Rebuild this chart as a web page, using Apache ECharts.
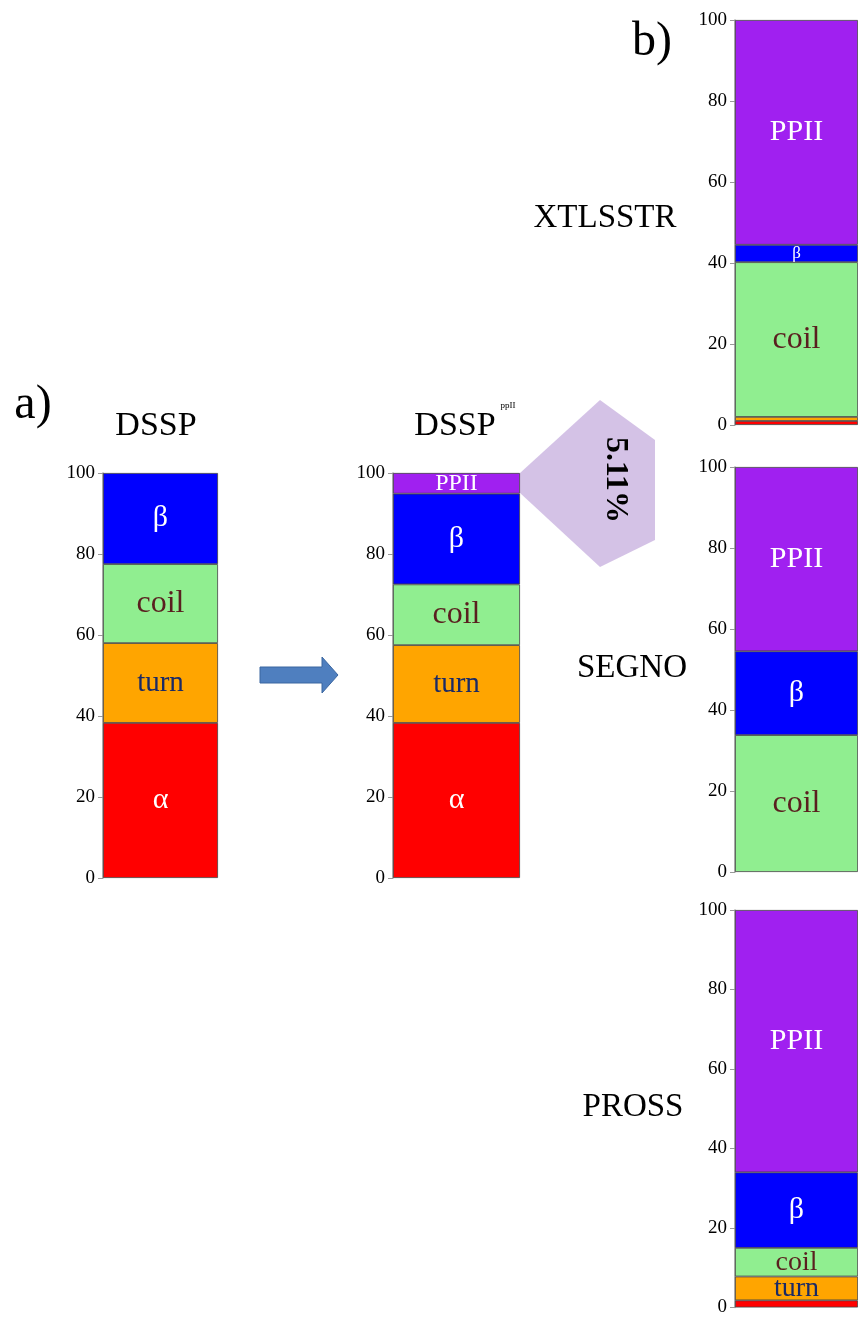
<!DOCTYPE html>
<html><head><meta charset="utf-8">
<script src="https://cdn.jsdelivr.net/npm/echarts@6/dist/echarts.min.js"></script>
<style>html,body{margin:0;padding:0;background:#fff}#c{width:858px;height:1317px}</style>
</head><body><div id="c"></div>
<script>
const classes = ['α','turn','coil','β','PPII'];
const panels = ['DSSP','DSSPppII','XTLSSTR','SEGNO','PROSS'];
const dsspVals     = [38.3, 19.7, 19.5, 22.5, 0];
const dsspPPIIVals = [38.3, 19.2, 15.0, 22.4, 5.11];
const xtlsstrVals  = [1.0, 1.0, 38.2, 4.3, 55.5];
const segnoVals    = [0, 0, 33.8, 20.7, 45.5];
const prossVals    = [1.8, 6.0, 7.2, 19.0, 66.0];
const yTicks = [0,20,40,60,80,100];
const allVals = [dsspVals, dsspPPIIVals, xtlsstrVals, segnoVals, prossVals];

const colors = ['#ff0000','#ffa500','#90ee90','#0000ff','#a020f0'];
const labelColors = ['#fff','#1a2a66','#5a1f1f','#fff','#fff'];
const labelSizes = [30,29,32,30,30];
const serif = 'Liberation Serif, DejaVu Serif, serif';

const grids = [
  {left:103, top:473, width:115, height:405},
  {left:393, top:473, width:127, height:405},
  {left:735, top:20, width:140, height:405},
  {left:735, top:467, width:140, height:405},
  {left:735, top:910, width:140, height:404}
];
const minLabel = [8,5,6,6,5];

const xAxis = [], yAxis = [], series = [];
grids.forEach((g,i)=>{
  xAxis.push({type:'category', gridIndex:i, data:[panels[i]], show:false});
  yAxis.push({type:'value', gridIndex:i, min:0, max:100, interval:20,
    axisLine:{show:true, lineStyle:{color:'#999', width:1.5}},
    axisTick:{show:true, length:5, lineStyle:{color:'#999'}},
    splitLine:{show:false},
    axisLabel:{color:'#000', fontFamily:serif, fontSize:19, margin:8}});
  classes.forEach((c,k)=>{
    const v = allVals[i][k];
    const showLab = v >= minLabel[i] || (i===2 && k===3);
    let fs = labelSizes[k];
    if (i===2&&k===3) fs = 17;
    if (i===1&&k===4) fs = 24;
    if (i===4&&(k===1||k===2)) fs = 28;
    series.push({type:'bar', name:c, xAxisIndex:i, yAxisIndex:i, stack:'s'+i,
      barWidth:'100%', data:[v],
      itemStyle:{color:colors[k], borderColor:'#444', borderWidth:v>0?0.8:0},
      label:{show:showLab && v>0, position:'inside', formatter:c,
        color:labelColors[k], fontFamily:serif, fontSize:fs},
      silent:true, animation:false});
  });
});

const chart = echarts.init(document.getElementById('c'));
const T = (x,y,text,size,extra)=>Object.assign({type:'text', x, y,
  style:Object.assign({text, fill:'#000', font:size+'px '+serif, textAlign:'center', textVerticalAlign:'middle'}, extra||{})});
chart.setOption({
  animation:false,
  grid:grids, xAxis, yAxis, series,
  graphic:[
    T(33,405,'a)',48),
    T(652,42,'b)',48),
    T(156,426,'DSSP',34),
    T(455,426,'DSSP',34),
    T(508,406,'ppII',9),
    T(605,218,'XTLSSTR',33),
    T(632,668,'SEGNO',33),
    T(633,1107,'PROSS',33),
    {type:'polygon', shape:{points:[[520,473],[520,493],[600,567],[655,540],[655,440],[600,400]]},
     style:{fill:'rgba(160,120,200,0.45)'}, z:-1},
    {type:'text', x:615, y:480, rotation:-Math.PI/2, originX:0, originY:0,
     style:{text:'5.11%', font:'bold 32px '+serif, fill:'#000', textAlign:'center', textVerticalAlign:'middle'}},
    {type:'polygon', shape:{points:[[260,667],[322,667],[322,657],[338,675],[322,693],[322,683],[260,683]]},
     style:{fill:'#4f7fbf', stroke:'#3a66a0', lineWidth:1}}
  ]
});
</script></body></html>
